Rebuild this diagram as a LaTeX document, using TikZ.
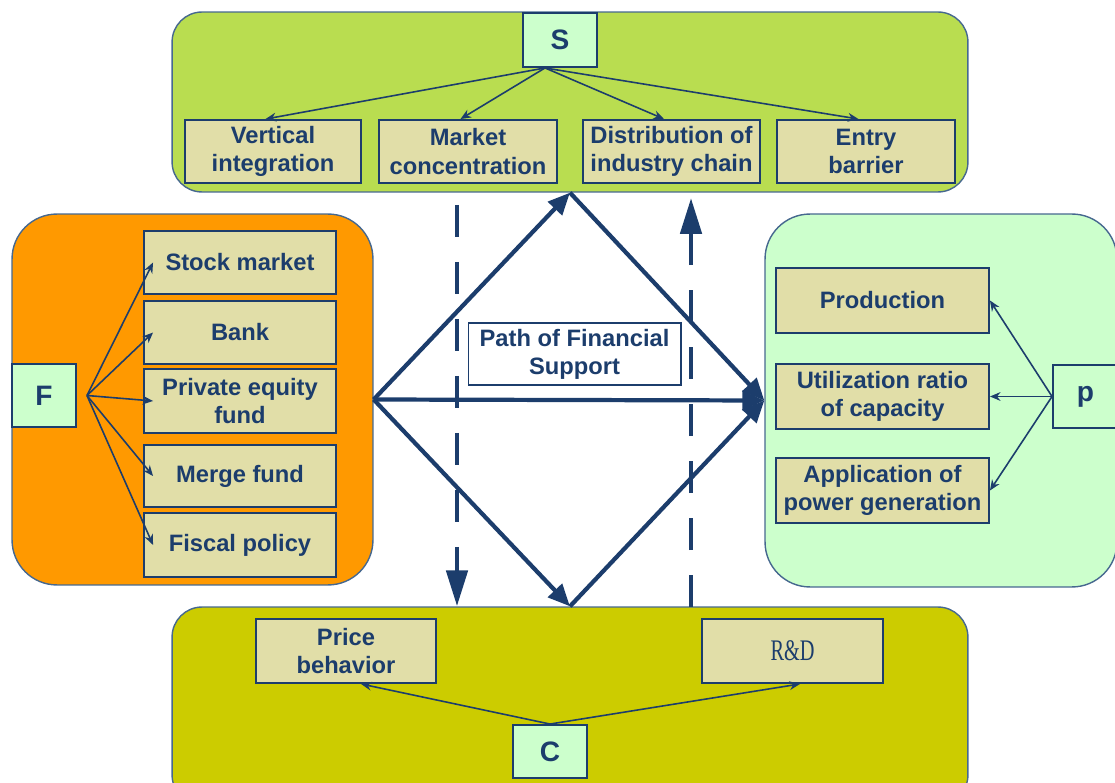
\documentclass[tikz,border=0pt]{standalone}
\usepackage{fontspec}
\setmainfont{Liberation Sans}
\newfontfamily\rdfont{Liberation Serif}
\usetikzlibrary{arrows.meta}

\definecolor{navy}{HTML}{1C3D6C}
\definecolor{edge}{HTML}{46688F}
\definecolor{sgreen}{HTML}{B9DD50}
\definecolor{forange}{HTML}{FF9900}
\definecolor{pmint}{HTML}{CCFFCC}
\definecolor{colive}{HTML}{CCCC00}
\definecolor{khaki}{HTML}{E1DEA8}

\begin{document}
\begin{tikzpicture}[x=0.02cm,y=-0.02cm,
	panel/.style={draw=edge, line width=0.8pt},
	box/.style={draw=navy, line width=1.1pt, fill=khaki, text=navy, align=center, inner sep=1pt,
		font=\fontsize{13.5}{16}\selectfont\bfseries},
	letter/.style={draw=navy, line width=1.1pt, fill=pmint, text=navy,
		font=\fontsize{16}{18}\selectfont\bfseries},
	link/.style={navy, line width=0.9pt, -{Stealth[length=6pt,width=5pt]}},
	flow/.style={navy, line width=2.4pt, -{Triangle[length=0.44cm,width=0.38cm]}},
	flowdash/.style={navy, line width=2.8pt, dash pattern=on 0.64cm off 0.5cm,
		-{Triangle[length=0.72cm,width=0.42cm]}}]
	\clip (0,0) rectangle (1115,783);
	%\draw[help lines] (0,0) grid[step=50] (1115,783);
	% the four blocks
	\node[panel, fill=sgreen, rounded corners=0.6cm, minimum width=15.92cm, minimum height=3.6cm] (Spanel) at (570,102) {};
	\node[panel, fill=forange, rounded corners=0.9cm, minimum width=7.22cm, minimum height=7.42cm] (Fpanel) at (192.5,399.5) {};
	\node[panel, fill=pmint, rounded corners=0.9cm, minimum width=7.04cm, minimum height=7.46cm] (Ppanel) at (941,400.5) {};
	\node[panel, fill=colive, rounded corners=0.6cm, minimum width=15.92cm, minimum height=3.96cm] (Cpanel) at (570,706) {};

	% financial support paths
	\draw[flow] (Fpanel.east) -- (Spanel.south);
	\draw[flow] (Spanel.south) -- (Ppanel.west);
	\draw[flow] (Fpanel.east) -- (Ppanel.west);
	\draw[flow] (Fpanel.east) -- (Cpanel.north);
	\draw[flow] (Cpanel.north) -- (Ppanel.west);
	\coordinate (down) at (457,205);
	\coordinate (up) at (691,607);
	\draw[flowdash] (down) -- (down |- Cpanel.north);
	\draw[flowdash] (up) -- (up |- 0,198);
	\node[draw=navy, line width=0.6pt, fill=white, text=navy, align=center, inner sep=1pt,
		minimum width=4.26cm, minimum height=1.24cm, font=\fontsize{13.5}{16}\selectfont\bfseries]
		(path) at (574.5,354) {Path of Financial\\Support};

	% S
	\node[letter, minimum width=1.48cm, minimum height=1.08cm] (S) at (560,40) {S};
	\node[box, minimum width=3.52cm, minimum height=1.26cm] (vert) at (273,151.5) {Vertical\\integration};
	\node[box, minimum width=3.56cm, minimum height=1.26cm] (conc) at (468,151.5) {Market\\concentration};
	\node[box, minimum width=3.54cm, minimum height=1.26cm] (chain) at (671.5,151.5) {Distribution of\\industry chain};
	\node[box, minimum width=3.56cm, minimum height=1.26cm] (entry) at (866,151.5) {Entry\\barrier};
	\coordinate (s0) at ([xshift=-0.3cm]S.south);
	\foreach \t in {vert,conc,chain,entry}
		\draw[link] (s0) -- ([xshift=-0.15cm]\t.north);

	% F
	\node[letter, minimum width=1.28cm, minimum height=1.26cm] (F) at (44,395.5) {F};
	\node[box, minimum width=3.84cm, minimum height=1.26cm] (stock) at (240,262.5) {Stock market};
	\node[box, minimum width=3.84cm, minimum height=1.26cm] (bank) at (240,332.5) {Bank};
	\node[box, minimum width=3.84cm, minimum height=1.28cm] (equity) at (240,401) {Private equity\\fund};
	\node[box, minimum width=3.84cm, minimum height=1.24cm] (merge) at (240,476) {Merge fund};
	\node[box, minimum width=3.84cm, minimum height=1.28cm] (fiscal) at (240,545) {Fiscal policy};
	\coordinate (f0) at ([xshift=0.2cm]F.east);
	\foreach \t in {stock,bank,equity,merge,fiscal}
		\draw[link] (f0) -- ([xshift=0.2cm]\t.west);

	% p
	\node[letter, minimum width=1.3cm, minimum height=1.26cm] (p) at (1085.5,396.5) {p};
	\node[box, minimum width=4.26cm, minimum height=1.3cm] (prod) at (882.5,300.5) {Production};
	\node[box, minimum width=4.26cm, minimum height=1.3cm] (util) at (882.5,396.5) {Utilization ratio\\of capacity};
	\node[box, minimum width=4.26cm, minimum height=1.3cm] (power) at (882.5,490.5) {Application of\\power generation};
	\foreach \t in {prod,util,power}
		\draw[link] (p.west) -- (\t.east);

	% C
	\node[letter, minimum width=1.48cm, minimum height=1.06cm] (C) at (550,751.5) {C};
	\node[box, minimum width=3.6cm, minimum height=1.28cm] (price) at (346,651) {Price\\behavior};
	\node[box, minimum width=3.62cm, minimum height=1.28cm, font=\rdfont] (rd) at (792.5,651)
		{\scalebox{0.68}[1]{\fontsize{17}{20}\selectfont R\&D}};
	\draw[link] (C.north) -- ([xshift=0.3cm]price.south);
	\draw[link] (C.north) -- ([xshift=0.15cm]rd.south);
\end{tikzpicture}
\end{document}
